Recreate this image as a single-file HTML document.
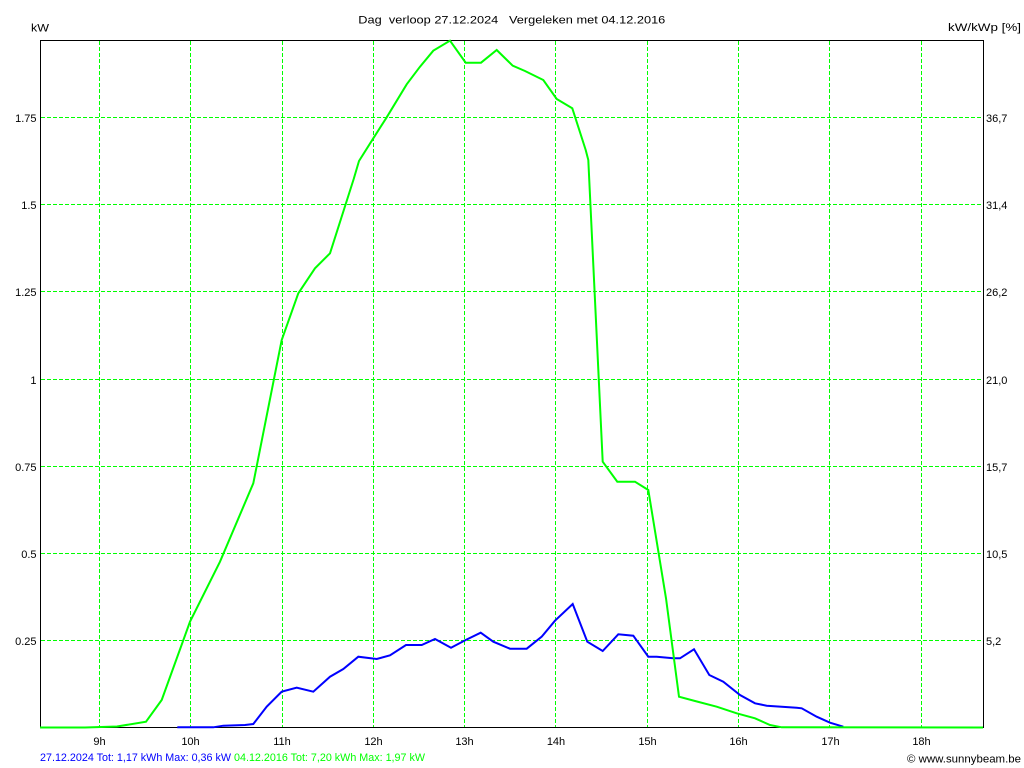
<!DOCTYPE html>
<html>
<head>
<meta charset="utf-8">
<style>
html,body{margin:0;padding:0;background:#fff;}
svg{display:block;}
text{font-family:"Liberation Sans",Arial,sans-serif;font-size:11px;fill:#000;white-space:pre;}
</style>
</head>
<body>
<svg width="1024" height="768" viewBox="0 0 1024 768" xmlns="http://www.w3.org/2000/svg">
<rect x="0" y="0" width="1024" height="768" fill="#fff"/>
<!-- grid -->
<g stroke="#00ff00" stroke-width="1" stroke-dasharray="4,2" fill="none">
  <line x1="41" y1="640.5" x2="983" y2="640.5"/>
  <line x1="41" y1="553.5" x2="983" y2="553.5"/>
  <line x1="41" y1="466.5" x2="983" y2="466.5"/>
  <line x1="41" y1="379.5" x2="983" y2="379.5"/>
  <line x1="41" y1="291.5" x2="983" y2="291.5"/>
  <line x1="41" y1="204.5" x2="983" y2="204.5"/>
  <line x1="41" y1="117.5" x2="983" y2="117.5"/>
  <line x1="99.5" y1="41" x2="99.5" y2="727"/>
  <line x1="190.5" y1="41" x2="190.5" y2="727"/>
  <line x1="282.5" y1="41" x2="282.5" y2="727"/>
  <line x1="373.5" y1="41" x2="373.5" y2="727"/>
  <line x1="464.5" y1="41" x2="464.5" y2="727"/>
  <line x1="555.5" y1="41" x2="555.5" y2="727"/>
  <line x1="647.5" y1="41" x2="647.5" y2="727"/>
  <line x1="738.5" y1="41" x2="738.5" y2="727"/>
  <line x1="829.5" y1="41" x2="829.5" y2="727"/>
  <line x1="921.5" y1="41" x2="921.5" y2="727"/>
</g>
<!-- frame -->
<g stroke="#000" stroke-width="1" fill="none">
  <polyline points="40.5,727.5 40.5,40.5 983.5,40.5 983.5,727.5"/>
  <line x1="40" y1="727.5" x2="984" y2="727.5"/>
</g>
<!-- blue series -->
<polyline fill="none" stroke="#0000ff" stroke-width="2" stroke-linejoin="miter" points="177.3,727.3 213.3,727.3 223.3,725.7 245,725 253.3,724 266.7,706.7 281.7,691.7 296.7,687.7 313.3,691.7 330,676.7 343.3,669 358.3,656.7 376.7,659 390,655.3 406,645 421.7,645 435,639 451,647.7 465.7,640 480.7,632.7 493.3,641.7 510,648.7 526.7,648.7 541.7,636.7 555,620.7 572.7,604 587.3,641.7 602.7,651 618.3,634.3 633.3,635.7 648.3,656.7 656.7,656.7 673.3,658.3 680,658.3 694,649.3 709.3,675 723.3,681.7 740,695 755,703.3 766.7,705.7 796.7,707.7 801.7,708.3 816.7,716.7 830,722.7 843.3,726.7"/>
<!-- green series -->
<polyline fill="none" stroke="#00ff00" stroke-width="2" stroke-linejoin="miter" points="40,727.5 85,727.5 117,726.5 146,721.7 161.7,700 190,621.7 220,561.7 253.3,483.3 281.7,340 298.3,293.3 315,268.3 330,253.3 353.7,179 359,161 373.3,138.3 386.7,117.3 406.7,84.3 420,66.7 433.3,50.7 450,40.7 465.7,62.7 481,62.7 496.7,50 512.7,65.7 525,71 543.3,80 556.7,99 572.3,108.3 585.7,150 588.3,160 602.7,461.7 617.3,481.7 635,481.7 648.3,490 666,598.3 679,696.7 695,701 716.7,706.7 736.7,713.3 755,718.3 770,725 781.7,727.3 983,727.5"/>
<!-- titles -->
<text x="358.3" y="23.3" textLength="307" lengthAdjust="spacingAndGlyphs">Dag  verloop 27.12.2024   Vergeleken met 04.12.2016</text>
<text x="31" y="31.5" textLength="18" lengthAdjust="spacingAndGlyphs">kW</text>
<text x="948" y="31" textLength="73" lengthAdjust="spacingAndGlyphs">kW/kWp [%]</text>
<!-- left y labels -->
<g text-anchor="end">
  <text x="36.5" y="122">1.75</text>
  <text x="36.5" y="209">1.5</text>
  <text x="36.5" y="296">1.25</text>
  <text x="36.5" y="384">1</text>
  <text x="36.5" y="471">0.75</text>
  <text x="36.5" y="558">0.5</text>
  <text x="36.5" y="645">0.25</text>
</g>
<!-- right y labels -->
<g>
  <text x="986" y="122">36,7</text>
  <text x="986" y="209">31,4</text>
  <text x="986" y="296">26,2</text>
  <text x="986" y="384">21,0</text>
  <text x="986" y="471">15,7</text>
  <text x="986" y="558">10,5</text>
  <text x="986" y="645">5,2</text>
</g>
<!-- x labels -->
<g text-anchor="middle">
  <text x="99.5" y="745">9h</text>
  <text x="190.5" y="745">10h</text>
  <text x="282" y="745">11h</text>
  <text x="373.5" y="745">12h</text>
  <text x="464.5" y="745">13h</text>
  <text x="556" y="745">14h</text>
  <text x="647.5" y="745">15h</text>
  <text x="738.5" y="745">16h</text>
  <text x="830.5" y="745">17h</text>
  <text x="921.5" y="745">18h</text>
</g>
<!-- legend -->
<text x="40" y="761" style="fill:#0000ff" textLength="191" lengthAdjust="spacingAndGlyphs">27.12.2024 Tot: 1,17 kWh Max: 0,36 kW</text>
<text x="234" y="761" style="fill:#00ff00" textLength="191" lengthAdjust="spacingAndGlyphs">04.12.2016 Tot: 7,20 kWh Max: 1,97 kW</text>
<text x="907" y="762.5" textLength="114" lengthAdjust="spacingAndGlyphs">© www.sunnybeam.be</text>
</svg>
</body>
</html>
